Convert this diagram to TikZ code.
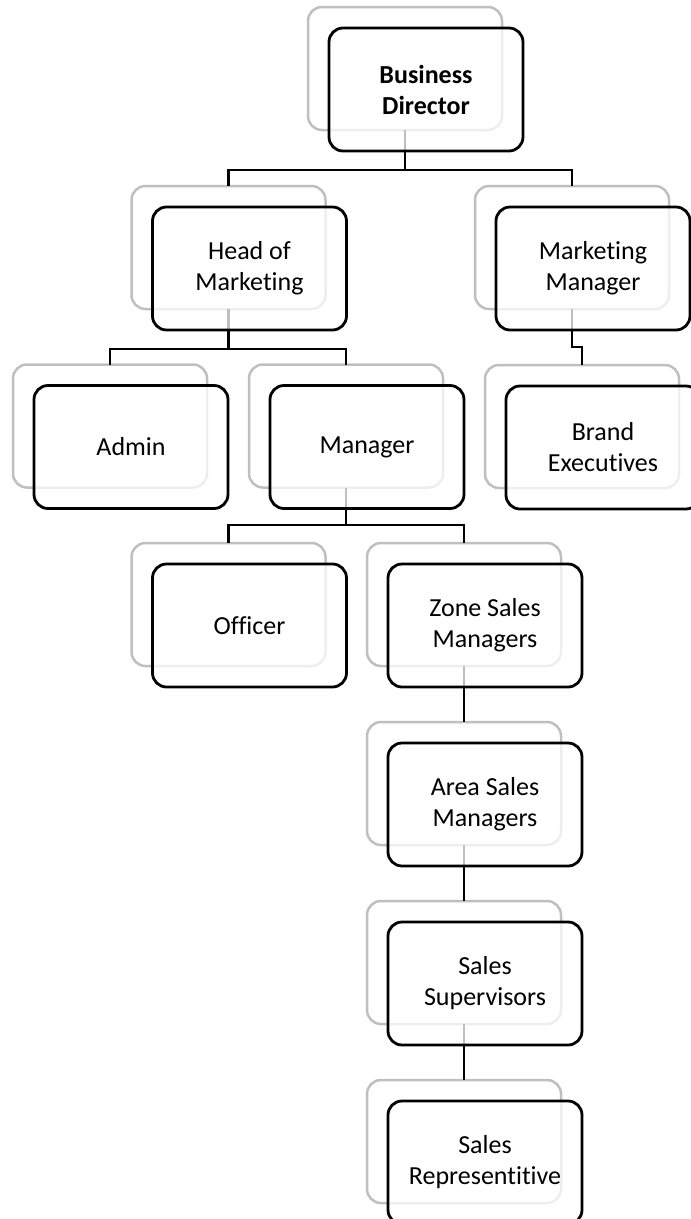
\documentclass[tikz,border=0pt]{standalone}
\usepackage{fontspec}
\setmainfont{Carlito}[Ligatures=NoCommon]
\usetikzlibrary{positioning}
\tikzset{
    shadow box/.style = {
        draw = gray!50,
        line width = 2.5pt,
        rounded corners = 14pt,
        minimum width = 194pt,
        minimum height = 123pt,
        outer sep = 0pt,
        },
    card/.style = {
        draw = black,
        line width = 2.8pt,
        rounded corners = 14pt,
        fill = white,
        fill opacity = 0.75,
        text opacity = 1,
        minimum width = 194pt,
        minimum height = 123pt,
        outer sep = 0pt,
        align = center,
        font = \fontsize{26}{31}\selectfont,
        },
    link/.style = {
        draw = black,
        line width = 2.5pt,
        },
}

\begin{document}
\begin{tikzpicture}[x=1pt, y=-1pt, node distance=56pt]
            \useasboundingbox (0,0) rectangle (691,1219);

            % shadow boxes
            \node[shadow box] (bd) at (405,68.5) {};
            \node[shadow box] (hom) at (228.5,247.5) {};
            \node[shadow box] (mm) at (572,247.5) {};
            \node[shadow box] (admin) at (110,426) {};
            \node[shadow box] (mgr) at (346,426) {};
            \node[shadow box] (brand) at (582,426.5) {};
            \node[shadow box] (officer) at (228.5,604.5) {};
            \node[shadow box] (zsm) at (464,604.5) {};
            \node[shadow box, below=of zsm] (asm) {};
            \node[shadow box, below=of asm] (sup) {};
            \node[shadow box, below=of sup] (rep) {};

            % connectors
            \draw[link] (bd.south) -- ++(0,40) coordinate (bd fork);
            \draw[link] (bd fork) -| (hom.north);
            \draw[link] (bd fork) -| (mm.north);
            \draw[link] (hom.south) -- ++(0,40) coordinate (hom fork);
            \draw[link] (hom fork) -| (admin.north);
            \draw[link] (hom fork) -| (mgr.north);
            \draw[link] (mm.south) -- ++(0,38) -| (brand.north);
            \draw[link] (mgr.south) -- ++(0,37.5) coordinate (mgr fork);
            \draw[link] (mgr fork) -| (officer.north);
            \draw[link] (mgr fork) -| (zsm.north);
            \draw[link] (zsm.south) -- (asm.north);
            \draw[link] (asm.south) -- (sup.north);
            \draw[link] (sup.south) -- (rep.north);

            % cards
            \node[card] (bd card) at ([shift={(21,21)}]bd) {\textbf{Business}\\\textbf{Director}};
            \node[card] (hom card) at ([shift={(21,21)}]hom) {Head of\\Marketing};
            \node[card] (mm card) at ([shift={(21,21)}]mm) {Marketing\\Manager};
            \node[card] (admin card) at ([shift={(21,21)}]admin) {Admin};
            \node[card] (mgr card) at ([shift={(21,21)}]mgr) {Manager};
            \node[card] (brand card) at ([shift={(21,21)}]brand) {Brand\\Executives};
            \node[card] (officer card) at ([shift={(21,21)}]officer) {Officer};
            \node[card] (zsm card) at ([shift={(21,21)}]zsm) {Zone Sales\\Managers};
            \node[card] (asm card) at ([shift={(21,21)}]asm) {Area Sales\\Managers};
            \node[card] (sup card) at ([shift={(21,21)}]sup) {Sales\\Supervisors};
            \node[card] (rep card) at ([shift={(21,21)}]rep) {Sales\\Representitive};
        \end{tikzpicture}
\end{document}
